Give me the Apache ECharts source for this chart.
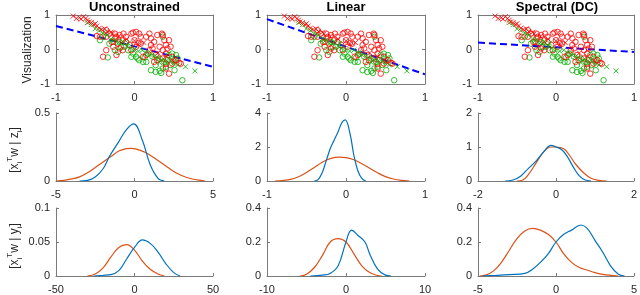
<!DOCTYPE html>
<html><head><meta charset="utf-8">
<script src="https://cdn.jsdelivr.net/npm/echarts@6/dist/echarts.min.js"></script>
<style>html,body{margin:0;padding:0;background:#fff}#c{width:640px;height:295px}</style>
</head><body><div id="c"></div>
<script>
// ---- data ----
const titles = ['Unconstrained', 'Linear', 'Spectral (DC)'];
const rowLabels = ['Visualization', 'z', 'y'];
// x-range per row/col [min,max,interval]
const xTicks = [[[-1,1,1],[-1,1,1],[-1,1,1]],[[-5,5,5],[-1,1,1],[-2,2,2]],[[-50,50,50],[-10,10,10],[-5,5,5]]];
const yTicks = [[[-1,1,1],[-1,1,1],[-1,1,1]],[[0,0.5,0.5],[0,4,2],[0,2,1]],[[0,0.1,0.05],[0,0.4,0.2],[0,0.4,0.2]]];
// dashed projection line: y at x=-1 and x=1
const lineX = [-1, 1];
const lineY1 = [0.68, -0.5];
const lineY2 = [0.88, -0.72];
const lineY3 = [0.2, -0.07];

const redCross = [[-0.78,0.97],[-0.74,0.9],[-0.7,0.92],[-0.68,0.88],[-0.65,0.95],[-0.62,0.9],[-0.6,0.85],[-0.58,0.8],[-0.55,0.78],[-0.52,0.72],[-0.5,0.75],[-0.48,0.68],[-0.45,0.62],[-0.42,0.58],[-0.38,0.6],[-0.35,0.52],[-0.3,0.5],[-0.28,0.45],[-0.2,0.38],[-0.1,0.3],[0.0,0.25],[0.05,0.15],[0.12,0.2],[0.3,-0.1],[0.4,-0.2],[0.5,-0.35]];
const greenCross = [[-0.6,0.78],[-0.55,0.72],[-0.5,0.6],[-0.45,0.55],[-0.4,0.48],[-0.35,0.42],[-0.3,0.3],[-0.25,0.28],[-0.2,0.2],[-0.15,0.22],[-0.1,0.1],[-0.05,0.05],[0.0,0.0],[0.05,-0.05],[0.1,-0.02],[0.15,-0.1],[0.2,-0.15],[0.25,-0.2],[0.3,-0.25],[0.35,-0.3],[0.4,-0.35],[0.45,-0.3],[0.5,-0.4],[0.55,-0.45],[0.65,-0.5],[0.77,-0.62],[-0.08,0.18],[0.32,-0.38]];
const greenCircle = [[-0.34,-0.23],[-0.25,-0.02],[-0.21,-0.07],[-0.32,0.17],[-0.27,0.22],[-0.17,0.08],[-0.08,-0.02],[-0.02,-0.12],[0.02,-0.21],[0.06,-0.31],[0.04,-0.26],[0.13,-0.23],[0.17,-0.12],[0.23,-0.21],[0.27,-0.45],[0.21,-0.6],[0.27,-0.65],[0.32,-0.62],[0.34,-0.68],[0.36,-0.55],[0.4,-0.5],[0.46,-0.45],[0.51,-0.6],[0.61,-0.89],[0.48,-0.12],[0.51,-0.31],[0.42,-0.31],[0.38,-0.36],[0.32,-0.26],[0.36,0.37],[-0.44,0.27],[-0.4,0.37],[-0.19,0.22],[-0.13,0.08],[-0.04,-0.21],[0.15,-0.36],[0.11,-0.36],[0.44,-0.16],[0.53,-0.16],[0.55,-0.26]];
const redCircle = [[-0.48,0.39],[-0.44,0.37],[-0.36,0.56],[-0.32,0.46],[-0.25,0.46],[-0.23,0.37],[-0.19,0.42],[-0.14,0.46],[-0.15,0.27],[-0.11,0.22],[-0.02,0.49],[0,0.27],[0.06,0.46],[0.08,0.37],[0.05,0.19],[0.19,0.46],[0.21,0.32],[0.25,0.22],[0.29,0.42],[0.35,0.46],[0.38,0.27],[0.4,0.13],[0.44,0.27],[0.46,0.08],[0.4,-0.12],[0.36,-0.26],[0.27,-0.16],[0.25,-0.36],[0.29,-0.31],[0.48,-0.21],[0.53,-0.31],[0.57,-0.39],[0.44,-0.7],[0.4,-0.55],[-0.4,-0.21],[-0.36,-0.02],[-0.27,0.08],[-0.23,-0.16],[-0.19,0.03],[-0.15,-0.02],[-0.06,0.13],[-0.04,-0.02],[0.02,0.08],[0.11,-0.21],[0.15,-0.16],[0.19,-0.02],[0.23,0.03],[0.08,0.17],[0.32,0.08],[-0.11,0.37],[-0.04,0.46],[0.15,0.37],[-0.36,0.37],[-0.29,0.22],[-0.21,0.17],[-0.25,0.32],[0.42,0.03],[0.36,-0.02],[0.21,0.13],[0.02,0.51],[0.36,0.42],[0.4,-0.41],[0.59,-0.41],[0.48,-0.41]];

// densities of x_i^T w given z_i (middle row)
const zBlue1 = [[-3.5,0],[-3,0.005],[-2.5,0.03],[-2,0.09],[-1.6,0.18],[-1,0.29],[-0.5,0.38],[-0.05,0.42],[0.5,0.3],[1,0.12],[1.5,0.02],[1.9,0]];
const zOrange1 = [[-5,0],[-4.5,0.005],[-4,0.015],[-3.5,0.03],[-3,0.06],[-2.5,0.1],[-2,0.14],[-1.5,0.18],[-1,0.22],[-0.5,0.238],[-0.2,0.24],[0.5,0.22],[1,0.19],[1.5,0.15],[2,0.11],[2.5,0.07],[3,0.04],[3.5,0.02],[4,0.008],[4.5,0]];
const zBlue2 = [[-0.4,0],[-0.35,0.1],[-0.3,0.5],[-0.25,1.2],[-0.2,1.9],[-0.15,2.4],[-0.1,2.9],[-0.05,3.45],[-0.01,3.6],[0.05,2.8],[0.1,1.5],[0.15,0.6],[0.2,0.15],[0.25,0]];
const zOrange2 = [[-0.9,0],[-0.8,0.03],[-0.7,0.1],[-0.6,0.25],[-0.5,0.5],[-0.4,0.8],[-0.3,1.1],[-0.2,1.32],[-0.08,1.4],[0,1.38],[0.1,1.25],[0.2,1.02],[0.3,0.75],[0.4,0.48],[0.5,0.26],[0.6,0.12],[0.7,0.04],[0.8,0]];
const zBlue3 = [[-1.3,0],[-1.1,0.03],[-0.9,0.15],[-0.7,0.38],[-0.5,0.6],[-0.3,0.88],[-0.13,1.05],[0,1.0],[0.15,0.92],[0.3,0.7],[0.45,0.4],[0.6,0.15],[0.75,0.03],[0.9,0]];
const zOrange3 = [[-1.0,0],[-0.85,0.03],[-0.7,0.2],[-0.5,0.55],[-0.3,0.88],[-0.13,1.0],[0,1.0],[0.2,0.95],[0.35,0.75],[0.5,0.5],[0.7,0.25],[0.9,0.08],[1.1,0.02],[1.3,0]];
// densities given y_i (bottom row)
const yBlue1 = [[-26,0],[-20,0.001],[-15,0.002],[-10,0.008],[-5,0.025],[0,0.042],[5,0.053],[10,0.048],[15,0.035],[20,0.018],[25,0.005],[29,0]];
const yOrange1 = [[-30,0],[-25,0.003],[-20,0.012],[-15,0.028],[-10,0.042],[-5,0.046],[0,0.038],[5,0.022],[10,0.01],[15,0.003],[19,0]];
const yBlue2 = [[-4.5,0],[-3,0.005],[-2,0.015],[-1,0.06],[0,0.2],[0.7,0.27],[1.5,0.24],[2.4,0.2],[3,0.13],[4,0.04],[5,0.005],[5.7,0]];
const yOrange2 = [[-5.8,0],[-5,0.01],[-4,0.05],[-3,0.12],[-2,0.2],[-1,0.22],[0,0.2],[1,0.13],[2,0.06],[3,0.02],[4,0.003],[4.5,0]];
const yBlue3 = [[-4.7,0],[-4,0.003],[-3,0.008],[-2,0.015],[-1.5,0.04],[-1,0.08],[-0.5,0.13],[0,0.2],[0.5,0.245],[1,0.27],[1.6,0.3],[2,0.28],[2.5,0.21],[3,0.14],[3.5,0.06],[4,0.01],[4.4,0]];
const yOrange3 = [[-4.9,0],[-4.5,0.005],[-4,0.03],[-3.5,0.08],[-3,0.15],[-2.5,0.22],[-2,0.265],[-1.5,0.28],[-1,0.27],[-0.5,0.245],[0,0.2],[0.5,0.13],[1,0.08],[1.5,0.05],[2,0.035],[2.5,0.02],[3,0.01],[3.5,0.004],[4,0]];

// ---- layout ----
const cols = [{left:56,width:157},{left:267,width:158},{left:478,width:158}];
const rows = [{top:15,height:69},{top:113,height:68},{top:208,height:69}];
const FONT = 'Liberation Sans, Arial, sans-serif';
const AX = '#7a7a7a', TXT = '#262626';
const BLUE = '#0072BD', ORANGE = '#D95319';
const crossPath = 'path://M0,0L10,10M10,0L0,10';

const grid = [], xAxis = [], yAxis = [], series = [];
function addAxes(r, c, gi) {
  const xt = xTicks[r][c], yt = yTicks[r][c];
  const common = {
    gridIndex: gi, type: 'value', splitLine:{show:false},
    axisLine:{show:true, onZero:false, lineStyle:{color:AX, width:1}},
    axisTick:{show:true, inside:true, length:3, lineStyle:{color:AX}},
    axisLabel:{color:TXT, fontSize:11, fontFamily:FONT}
  };
  const xi = xAxis.length;
  xAxis.push(Object.assign({}, common, {min:xt[0], max:xt[1], interval:xt[2], position:'bottom', axisLabel:Object.assign({}, common.axisLabel, {margin:8})}));
  const yi = yAxis.length;
  yAxis.push(Object.assign({}, common, {min:yt[0], max:yt[1], interval:yt[2], position:'left', axisLabel:Object.assign({}, common.axisLabel, {margin:6})}));
  if (r === 0) {
    xAxis.push(Object.assign({}, common, {min:xt[0], max:xt[1], interval:xt[2], position:'top', axisLabel:{show:false}}));
    yAxis.push(Object.assign({}, common, {min:yt[0], max:yt[1], interval:yt[2], position:'right', axisLabel:{show:false}}));
  }
  return [xi, yi];
}
const lineYs = [lineY1, lineY2, lineY3];
const zSets = [[zBlue1,zOrange1],[zBlue2,zOrange2],[zBlue3,zOrange3]];
const ySets = [[yBlue1,yOrange1],[yBlue2,yOrange2],[yBlue3,yOrange3]];
for (let r = 0; r < 3; r++) {
  for (let c = 0; c < 3; c++) {
    const gi = grid.length;
    grid.push({left:cols[c].left, width:cols[c].width, top:rows[r].top, height:rows[r].height, containLabel:false});
    const [xi, yi] = addAxes(r, c, gi);
    const base = {xAxisIndex:xi, yAxisIndex:yi, silent:true, animation:false};
    if (r === 0) {
      series.push(Object.assign({}, base, {type:'line', data:lineX.map((x,k)=>[x, lineYs[c][k]]), symbol:'none', lineStyle:{color:'#0000ff', width:2, type:[7,4]}, z:1}));
      series.push(Object.assign({}, base, {type:'scatter', data:greenCircle, symbol:'circle', symbolSize:5.5, itemStyle:{color:'rgba(0,0,0,0)', borderColor:'#00b000', borderWidth:1}, z:2}));
      series.push(Object.assign({}, base, {type:'scatter', data:redCircle, symbol:'circle', symbolSize:5.5, itemStyle:{color:'rgba(0,0,0,0)', borderColor:'#ff0000', borderWidth:1}, z:3}));
      series.push(Object.assign({}, base, {type:'scatter', data:greenCross, symbol:crossPath, symbolSize:5, itemStyle:{color:'none', borderColor:'#00b000', borderWidth:1}, z:4}));
      series.push(Object.assign({}, base, {type:'scatter', data:redCross, symbol:crossPath, symbolSize:5, itemStyle:{color:'none', borderColor:'#ff0000', borderWidth:1}, z:5}));
    } else {
      const sets = r === 1 ? zSets[c] : ySets[c];
      series.push(Object.assign({}, base, {type:'line', data:sets[1], smooth:0.4, symbol:'none', lineStyle:{color:ORANGE, width:1.2}}));
      series.push(Object.assign({}, base, {type:'line', data:sets[0], smooth:0.4, symbol:'none', lineStyle:{color:BLUE, width:1.2}}));
    }
  }
}
const title = titles.map((t,c)=>({text:t, left:cols[c].left + cols[c].width/2, top:0, textAlign:'center', padding:0,
  textStyle:{fontSize:13, fontWeight:'bold', color:'#000', fontFamily:FONT, lineHeight:14}}));

function ylab(text, x, y) {
  return {type:'text', x:x, y:y, rotation:Math.PI/2, silent:true,
    style:{text:text, align:'center', verticalAlign:'middle', fill:TXT, font:'12px ' + FONT,
      rich:{
        n:{fontSize:12, fontFamily:FONT, fill:TXT, lineHeight:18, verticalAlign:'middle'},
        sub:{fontSize:8, fontFamily:FONT, fill:TXT, lineHeight:18, verticalAlign:'bottom'},
        sup:{fontSize:8, fontFamily:FONT, fill:TXT, lineHeight:18, verticalAlign:'top'}
      }}};
}
const graphic = [
  ylab('{n|' + rowLabels[0] + '}', 28, 50),
  ylab('{n|[x}{sub|i}{sup|T}{n|w | ' + rowLabels[1] + '}{sub|i}{n|]}', 15, 150),
  ylab('{n|[x}{sub|i}{sup|T}{n|w | ' + rowLabels[2] + '}{sub|i}{n|]}', 15, 246)
];

const chart = echarts.init(document.getElementById('c'), null, {renderer:'canvas'});
chart.setOption({animation:false, backgroundColor:'#fff', title, grid, xAxis, yAxis, series, graphic});
</script></body></html>
